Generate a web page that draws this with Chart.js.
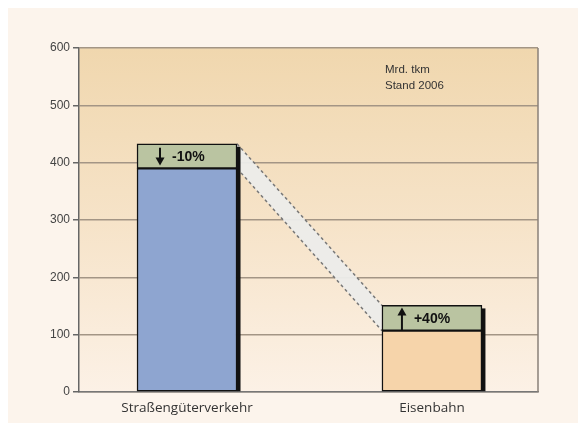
<!DOCTYPE html>
<html>
<head>
<meta charset="utf-8">
<script src="https://cdn.jsdelivr.net/npm/chart.js@4"></script>
<style>
  html, body { margin: 0; padding: 0; background: #ffffff; }
  #wrap { position: absolute; left: 8px; top: 8px; width: 570px; height: 415px; }
</style>
</head>
<body>
<div id="wrap"><canvas id="chart" width="570" height="415"></canvas></div>
<script>
// data
var categories = ['Straßengüterverkehr', 'Eisenbahn'];
var positions = [1, 2];
var baseValues = [390, 107];
var changeValues = [43, 44];
var changeLabels = ['-10%', '+40%'];
var changeDirection = ['down', 'up'];
var yTicks = [0, 100, 200, 300, 400, 500, 600];
var noteLines = ['Mrd. tkm', 'Stand 2006'];

function pts(vals) {
  return vals.map(function (v, i) { return { x: positions[i], y: v }; });
}

// background: cream page + gradient plot area
var backgroundPlugin = {
  id: 'bg',
  beforeDraw: function (chart) {
    var ctx = chart.ctx, a = chart.chartArea;
    ctx.save();
    ctx.fillStyle = '#fcf4ec';
    ctx.fillRect(0, 0, chart.width, chart.height);
    var g = ctx.createLinearGradient(0, a.top, 0, a.bottom);
    g.addColorStop(0, '#f0d7ae');
    g.addColorStop(0.5, '#f6e3c8');
    g.addColorStop(1, '#fcf1e6');
    ctx.fillStyle = g;
    ctx.fillRect(a.left, a.top, a.right - a.left, a.bottom - a.top);
    ctx.restore();
  }
};

// dashed band between the bars + drop shadows
var bandPlugin = {
  id: 'band',
  beforeDatasetsDraw: function (chart) {
    var ctx = chart.ctx;
    var base = chart.getDatasetMeta(0).data;
    var top = chart.getDatasetMeta(1).data;
    var w1 = top[0].width / 2, w2 = top[1].width / 2;
    var x1 = top[0].x + w1, x2 = top[1].x - w2;
    ctx.save();
    ctx.beginPath();
    ctx.moveTo(x1, top[0].y);
    ctx.lineTo(x2, top[1].y);
    ctx.lineTo(x2, base[1].y);
    ctx.lineTo(x1, base[0].y);
    ctx.closePath();
    ctx.fillStyle = 'rgba(236,236,234,0.95)';
    ctx.fill();
    ctx.strokeStyle = '#777';
    ctx.lineWidth = 1.5;
    ctx.setLineDash([3, 3]);
    ctx.beginPath();
    ctx.moveTo(x1, top[0].y);
    ctx.lineTo(x2, top[1].y);
    ctx.moveTo(x1, base[0].y);
    ctx.lineTo(x2, base[1].y);
    ctx.stroke();
    ctx.setLineDash([]);
    // shadows on the right side
    ctx.fillStyle = '#111';
    top.forEach(function (el, i) {
      var r = el.x + el.width / 2;
      ctx.fillRect(r, el.y + 3, 3.5, base[i].base - el.y - 3);
    });
    ctx.restore();
  }
};

function arrow(ctx, x, y0, y1) {
  // shaft from y0 to tip at y1
  var dir = y1 > y0 ? 1 : -1;
  ctx.beginPath();
  ctx.moveTo(x, y0);
  ctx.lineTo(x, y1 - dir * 6);
  ctx.lineWidth = 2;
  ctx.stroke();
  ctx.beginPath();
  ctx.moveTo(x, y1);
  ctx.lineTo(x - 4.5, y1 - dir * 8);
  ctx.lineTo(x + 4.5, y1 - dir * 8);
  ctx.closePath();
  ctx.fill();
}

var labelPlugin = {
  id: 'labels',
  afterDatasetsDraw: function (chart) {
    var ctx = chart.ctx, a = chart.chartArea;
    var top = chart.getDatasetMeta(1).data;
    ctx.save();
    ctx.fillStyle = '#111';
    ctx.strokeStyle = '#111';
    top.forEach(function (el, i) {
      var left = el.x - el.width / 2;
      var yTop = el.y, yBot = el.base;
      if (changeDirection[i] === 'down') arrow(ctx, left + 23, yTop + 4, yBot - 3);
      else arrow(ctx, left + 20, yBot, yTop + 2);
      ctx.font = 'bold 14px "Liberation Sans", Arial, sans-serif';
      ctx.textBaseline = 'middle';
      ctx.textAlign = 'left';
      ctx.fillText(changeLabels[i], left + (i === 0 ? 35 : 32), (yTop + yBot) / 2 + 1);
    });
    // note in the upper right
    ctx.fillStyle = '#333';
    ctx.font = '11.5px "Liberation Sans", Arial, sans-serif';
    ctx.textBaseline = 'middle';
    ctx.fillText(noteLines[0], a.left + 306, a.top + 22);
    ctx.fillText(noteLines[1], a.left + 306, a.top + 38);
    // frame right edge
    ctx.strokeStyle = '#8a8078';
    ctx.lineWidth = 1.5;
    ctx.beginPath();
    ctx.moveTo(a.right, a.top);
    ctx.lineTo(a.right, a.bottom);
    ctx.stroke();
    ctx.restore();
  }
};

new Chart(document.getElementById('chart'), {
  type: 'bar',
  data: {
    datasets: [
      {
        data: pts(baseValues),
        backgroundColor: ['#8ea5d0', '#f6d4aa'],
        borderColor: '#111',
        borderWidth: 1.5,
        borderSkipped: false,
        barThickness: 100
      },
      {
        data: pts(changeValues),
        backgroundColor: '#bac4a1',
        borderColor: '#111',
        borderWidth: 1.5,
        borderSkipped: false,
        barThickness: 100
      }
    ]
  },
  options: {
    responsive: false,
    animation: false,
    devicePixelRatio: 1,
    layout: { padding: { top: 40, right: 40, bottom: 0, left: 0 } },
    plugins: { legend: { display: false }, tooltip: { enabled: false } },
    scales: {
      x: {
        type: 'linear',
        stacked: true,
        offset: false,
        min: 0.559,
        max: 2.433,
        grid: { display: false, drawTicks: false },
        border: { color: '#777', width: 1.5 },
        afterBuildTicks: function (axis) {
          axis.ticks = positions.map(function (p) { return { value: p }; });
        },
        afterFit: function (scale) { scale.height = 31; },
        ticks: {
          autoSkip: false,
          maxRotation: 0,
          padding: 8,
          color: '#333',
          font: { family: '"Open Sans", sans-serif', size: 13.5 },
          callback: function (v, i) { return categories[i]; }
        }
      },
      y: {
        stacked: true,
        min: 0,
        max: 600,
        afterBuildTicks: function (axis) {
          axis.ticks = yTicks.map(function (v) { return { value: v }; });
        },
        afterFit: function (scale) { scale.width = 71; },
        grid: { color: '#a39585', lineWidth: 1.5, tickLength: 6, tickColor: '#666' },
        border: { color: '#666', width: 1.5 },
        ticks: {
          padding: 3,
          color: '#444',
          font: { family: '"Liberation Sans", Arial, sans-serif', size: 12 }
        }
      }
    }
  },
  plugins: [backgroundPlugin, bandPlugin, labelPlugin]
});
</script>
</body>
</html>
